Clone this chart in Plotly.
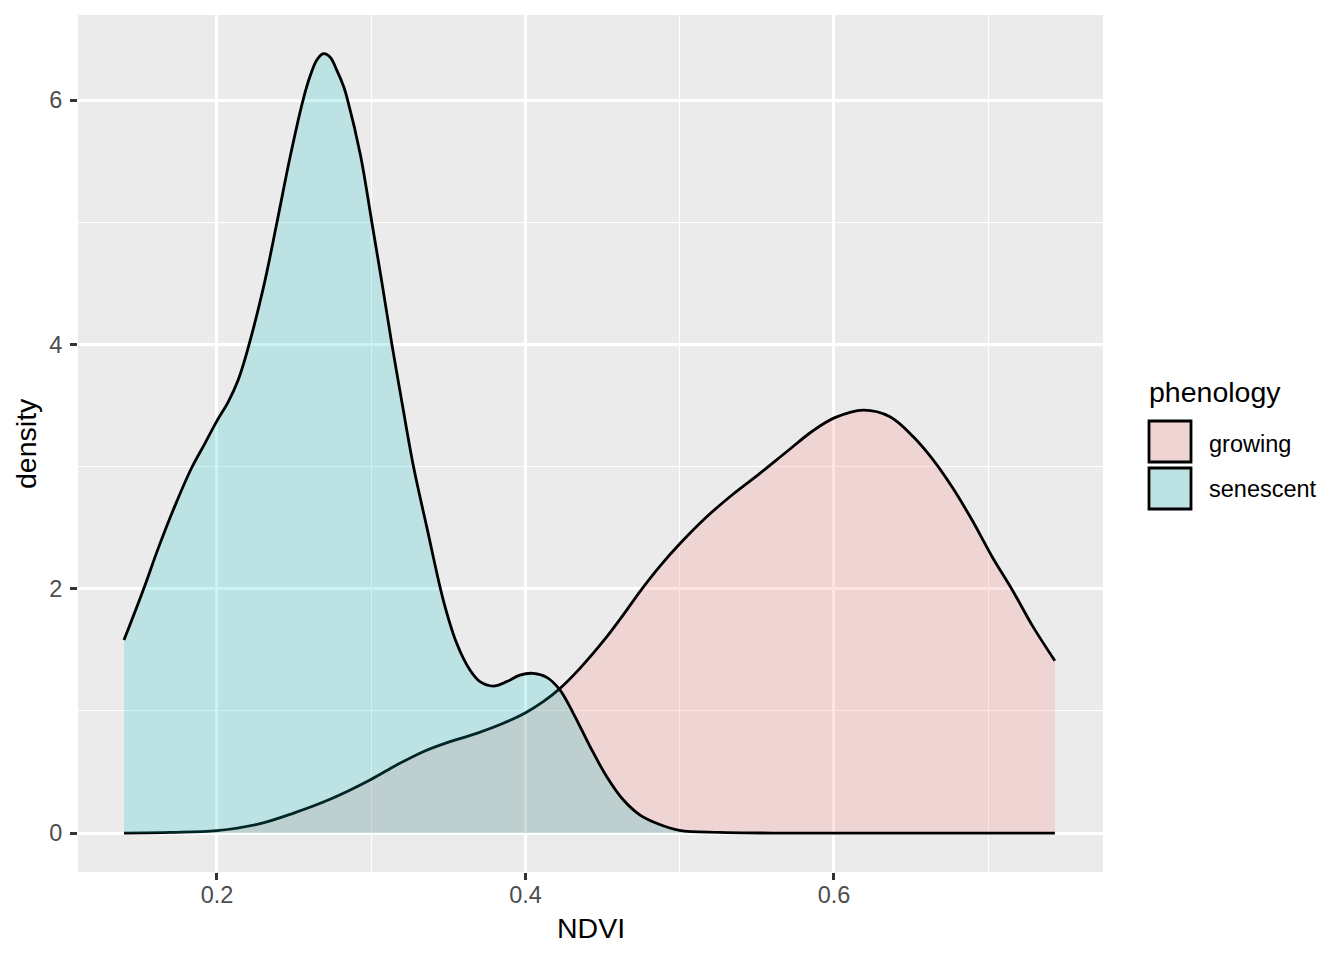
import plotly.graph_objects as go

# ---- data ----
series_names = ["growing", "senescent"]

growing_ndvi = [0.1397, 0.170, 0.200, 0.228, 0.2497, 0.2733, 0.2992, 0.3165, 0.3337,
                0.3511, 0.3684, 0.3856, 0.4001, 0.4115, 0.4224, 0.4353, 0.4504,
                0.4613, 0.4753, 0.4872, 0.5002, 0.5175, 0.5347, 0.5520, 0.5693,
                0.5866, 0.6006, 0.6190, 0.6363, 0.6514, 0.6644, 0.6767, 0.6896,
                0.7026, 0.7156, 0.7285, 0.7432]
growing_density = [0.0, 0.005, 0.02, 0.077, 0.163, 0.276, 0.434, 0.557, 0.666,
                   0.748, 0.816, 0.898, 0.985, 1.075, 1.184, 1.348, 1.57,
                   1.75, 1.995, 2.185, 2.37, 2.589, 2.775, 2.944, 3.121,
                   3.295, 3.400, 3.462, 3.408, 3.244, 3.053, 2.83, 2.56,
                   2.26, 1.99, 1.70, 1.41]

senescent_ndvi = [0.1397, 0.1522, 0.1619, 0.1728, 0.1836, 0.1922, 0.1998, 0.2073,
                  0.2138, 0.2193, 0.2302, 0.2389, 0.2475, 0.2558, 0.2605, 0.2648,
                  0.2691, 0.2734, 0.2778, 0.2821, 0.2847, 0.2930, 0.3004, 0.3070,
                  0.3134, 0.3200, 0.3274, 0.3361, 0.3467, 0.3554, 0.3640, 0.3705,
                  0.3791, 0.3878, 0.3964, 0.4051, 0.4138, 0.4224, 0.4310, 0.4419,
                  0.4527, 0.4635, 0.4743, 0.4862, 0.4998, 0.5257, 0.56, 0.60,
                  0.65, 0.70, 0.7432]
senescent_density = [1.58, 1.99, 2.33, 2.68, 2.99, 3.19, 3.37, 3.53,
                     3.71, 3.93, 4.47, 5.0, 5.54, 6.0, 6.2, 6.33,
                     6.38, 6.35, 6.24, 6.11, 6.0, 5.55, 5.0, 4.5,
                     4.0, 3.52, 3.0, 2.5, 1.907, 1.553, 1.334, 1.239,
                     1.203, 1.239, 1.293, 1.307, 1.274, 1.17, 0.98, 0.707,
                     0.461, 0.270, 0.147, 0.074, 0.022, 0.005, 0.0, 0.0,
                     0.0, 0.0, 0.0]

x_ticks = [0.2, 0.4, 0.6]
x_tick_labels = ["0.2", "0.4", "0.6"]
y_ticks = [0, 2, 4, 6]
y_tick_labels = ["0", "2", "4", "6"]

fill_colors = {"growing": "rgba(248,118,109,0.2)", "senescent": "rgba(0,191,196,0.2)"}
key_colors = {"growing": "#EED4D2", "senescent": "#BCE2E3"}

FONT = "Liberation Sans, Arial, sans-serif"

# layout geometry (pixels)
W, H = 1344, 960
L, R, T, B = 78, 1103, 15, 872


def px_x(p):
    return (p - L) / (R - L)


def px_y(p):
    return (B - p) / (B - T)


fig = go.Figure()
for name, xs, ys in [("growing", growing_ndvi, growing_density),
                     ("senescent", senescent_ndvi, senescent_density)]:
    fig.add_trace(go.Scatter(
        x=xs, y=ys, name=name, mode="lines",
        line=dict(color="black", width=2.8, shape="spline", smoothing=1.0),
        fill="tozeroy", fillcolor=fill_colors[name],
        showlegend=False, hoverinfo="skip"))

fig.update_layout(
    width=W, height=H,
    margin=dict(l=L, r=W - R, t=T, b=H - B),
    paper_bgcolor="white", plot_bgcolor="#EBEBEB",
    font=dict(family=FONT, color="black"),
    showlegend=False,
)

fig.update_xaxes(
    range=[0.1099, 0.7744], tickmode="array", tickvals=x_ticks, ticktext=x_tick_labels,
    showgrid=True, gridcolor="white", gridwidth=2.8,
    minor=dict(tickmode="array", tickvals=[0.3, 0.5, 0.7], showgrid=True,
               gridcolor="white", gridwidth=1.4, ticks=""),
    ticks="outside", ticklen=7, tickwidth=2.8, tickcolor="#333333",
    tickfont=dict(family=FONT, size=23.5, color="#4D4D4D"),
    ticklabelstandoff=-5,
    zeroline=False, showline=False,
)
fig.update_yaxes(
    range=[-0.319, 6.696], tickmode="array", tickvals=y_ticks, ticktext=y_tick_labels,
    showgrid=True, gridcolor="white", gridwidth=2.8,
    minor=dict(tickmode="array", tickvals=[1, 3, 5], showgrid=True,
               gridcolor="white", gridwidth=1.4, ticks=""),
    ticks="outside", ticklen=7, tickwidth=2.8, tickcolor="#333333",
    tickfont=dict(family=FONT, size=23.5, color="#4D4D4D"),
    ticklabelstandoff=3,
    zeroline=False, showline=False,
)

annotations = [
    dict(text="NDVI", x=px_x((L + R) / 2), y=px_y(928), xref="paper", yref="paper",
         xanchor="center", yanchor="middle", showarrow=False,
         font=dict(family=FONT, size=28.5, color="black")),
    dict(text="density", x=px_x(25.5), y=px_y((T + B) / 2), xref="paper", yref="paper",
         xanchor="center", yanchor="middle", textangle=-90, showarrow=False,
         font=dict(family=FONT, size=28.5, color="black")),
    dict(text="phenology", x=px_x(1147), y=px_y(392), xref="paper", yref="paper",
         xanchor="left", yanchor="middle", showarrow=False,
         font=dict(family=FONT, size=28.5, color="black")),
]
shapes = []
key_tops = [420, 467]
label_centers = [443.6, 488.6]
for name, top, lc in zip(series_names, key_tops, label_centers):
    shapes.append(dict(type="rect", xref="paper", yref="paper",
                       x0=px_x(1149), x1=px_x(1191), y0=px_y(top + 1), y1=px_y(top + 42),
                       fillcolor=key_colors[name], line=dict(color="black", width=2.8)))
    annotations.append(dict(text=name, x=px_x(1207), y=px_y(lc), xref="paper", yref="paper",
                            xanchor="left", yanchor="middle", showarrow=False,
                            font=dict(family=FONT, size=23.5, color="black")))

fig.update_layout(annotations=annotations, shapes=shapes)

fig.write_html("out.html", config={"displayModeBar": False},
               post_script="document.body.style.margin='0';document.body.style.padding='0';")
